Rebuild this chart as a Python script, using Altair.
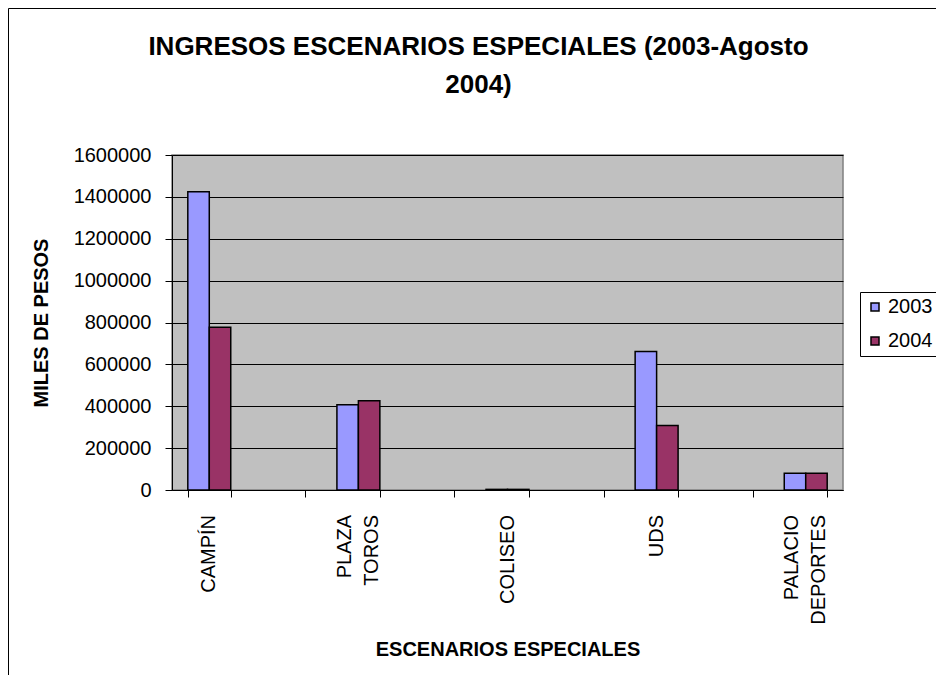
import altair as alt
import pandas as pd

categories = ["CAMPÍN", "_1", "PLAZA TOROS", "_2", "COLISEO", "_3", "UDS", "_4", "PALACIO DEPORTES"]
single_labels = ["CAMPÍN", "COLISEO", "UDS"]
double_labels = ["PLAZA TOROS", "PALACIO DEPORTES"]
years = ["2003", "2004"]
vals_2003 = [1425000, None, 407000, None, 3000, None, 661000, None, 80000]
vals_2004 = [777000, None, 426000, None, 3000, None, 308000, None, 80000]
y_ticks = [0, 200000, 400000, 600000, 800000, 1000000, 1200000, 1400000, 1600000]
colors = ["#9999FF", "#993366"]

rows = []
for c, a, b in zip(categories, vals_2003, vals_2004):
    if a is not None:
        rows.append({"cat": c, "year": "2003", "value": a})
    if b is not None:
        rows.append({"cat": c, "year": "2004", "value": b})
df = pd.DataFrame(rows)

FONT = "Liberation Sans"
H = 335
xscale = alt.Scale(domain=categories, paddingInner=0.424, paddingOuter=0.212)

bars = alt.Chart(df).mark_bar(stroke="black", strokeWidth=1.5).encode(
    x=alt.X("cat:N", sort=categories, scale=xscale,
            axis=alt.Axis(title="ESCENARIOS ESPECIALES", labels=False,
                          tickBand="extent", tickSize=7, tickColor="black",
                          domainColor="black", titleFont=FONT, titleFontSize=20,
                          titleFontWeight="bold", titleColor="black", titlePadding=142,
                          grid=False)),
    xOffset=alt.XOffset("year:N", sort=years, scale=alt.Scale(paddingInner=0, paddingOuter=0)),
    y=alt.Y("value:Q", scale=alt.Scale(domain=[0, 1600000], nice=False),
            axis=alt.Axis(title="MILES DE PESOS", values=y_ticks, format="d",
                          tickSize=7, tickColor="black", domainColor="black",
                          gridColor="black", gridWidth=1, labelColor="black",
                          labelFontSize=20, labelFont=FONT, labelPadding=14,
                          titleFont=FONT, titleFontSize=20, titleFontWeight="bold",
                          titleColor="black", titlePadding=22)),
    color=alt.Color("year:N", sort=years,
                    scale=alt.Scale(domain=years, range=colors),
                    legend=alt.Legend(title=None, orient="none", legendX=688, legendY=137,
                                      symbolType="square", symbolSize=64,
                                      symbolStrokeColor="black", symbolStrokeWidth=1.5,
                                      labelFontSize=20, labelFont=FONT, labelColor="black",
                                      rowPadding=14, padding=5, strokeColor="black",
                                      fillColor="white", symbolOffset=0, labelOffset=3)),
)

lab1 = alt.Chart(pd.DataFrame({"cat": single_labels})).mark_text(
    angle=270, align="right", baseline="middle", font=FONT, fontSize=20, color="black"
).encode(
    x=alt.X("cat:N", sort=categories, scale=xscale), y=alt.value(H + 25), text="cat:N"
)

lab2 = alt.Chart(pd.DataFrame({"cat": double_labels})).mark_text(
    angle=270, align="right", baseline="middle", font=FONT, fontSize=20, color="black",
    lineBreak=" ", lineHeight=27, dy=-13.5
).encode(
    x=alt.X("cat:N", sort=categories, scale=xscale), y=alt.value(H + 25), text="cat:N"
)

frame = alt.Chart(pd.DataFrame({"d": [0]})).mark_rect(
    fillOpacity=0, stroke="black", strokeWidth=1
).encode(
    x=alt.value(-163.5), x2=alt.value(800), y=alt.value(-146.5), y2=alt.value(700)
)

chart = alt.layer(frame, bars, lab1, lab2).properties(
    width=671, height=H,
    background="white",
    title=alt.TitleParams(
        ["INGRESOS ESCENARIOS ESPECIALES (2003-Agosto", "2004)"],
        font=FONT, fontSize=26, fontWeight="bold", color="black",
        anchor="middle", dx=-29, offset=-90, lineHeight=38),
    autosize=alt.AutoSizeParams(type="none"),
    padding={"left": 164, "top": 147, "right": 93, "bottom": 185},
).configure_view(
    fill="#C0C0C0", stroke="#808080", strokeWidth=1.5
)

chart.save("out.html", embed_options={"renderer": "svg", "actions": False})
